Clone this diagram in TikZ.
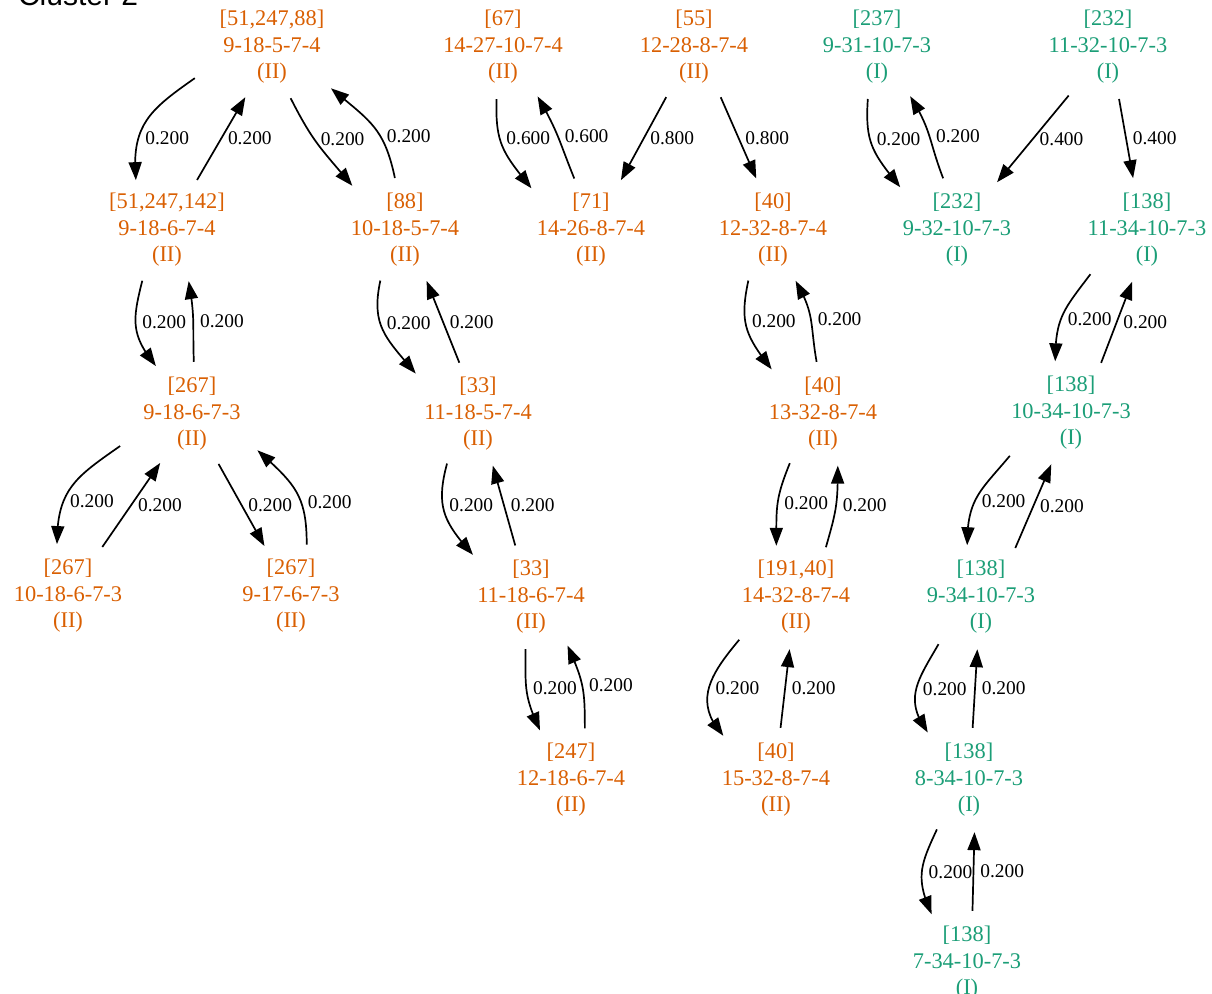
\documentclass[tikz,border=0pt]{standalone}
\usepackage{fontspec}
\setmainfont{Liberation Serif}
\newfontfamily\clusterfont{Liberation Sans}
\usetikzlibrary{arrows.meta,bending,shapes.geometric}
\definecolor{gvorange}{HTML}{D95F02}
\definecolor{gvgreen}{HTML}{1B9E77}
\tikzset{
  stnode/.style={ellipse, align=center, inner xsep=7.75pt, inner ysep=0pt,
    font=\fontsize{11.2}{13.25}\selectfont},
  typeII/.style={stnode, text=gvorange},
  typeI/.style={stnode, text=gvgreen},
  link/.style={line width=0.85pt, -{Triangle[length=9pt,width=6.5pt]}},
  wt/.style={right, inner sep=3pt, font=\fontsize{9.7}{11}\selectfont}
}
\begin{document}
\begin{tikzpicture}[x=0.5pt,y=-0.5pt]
\useasboundingbox (0,0) rectangle (1212,994);

\node[anchor=base west, font=\clusterfont\fontsize{15}{18}\selectfont] (title) at (11,6) {Cluster 2};

% first row
\node[typeII] (a) at (272,47) {[51,247,88]\\9-18-5-7-4\\(II)};
\node[typeII] (b) at (503,47) {[67]\\14-27-10-7-4\\(II)};
\node[typeII] (c) at (694,47) {[55]\\12-28-8-7-4\\(II)};
\node[typeI] (d) at (877,47) {[237]\\9-31-10-7-3\\(I)};
\node[typeI] (e) at (1108,47) {[232]\\11-32-10-7-3\\(I)};
% second row
\node[typeII] (f) at (167,230) {[51,247,142]\\9-18-6-7-4\\(II)};
\node[typeII] (g) at (405,230) {[88]\\10-18-5-7-4\\(II)};
\node[typeII] (h) at (591,230) {[71]\\14-26-8-7-4\\(II)};
\node[typeII] (i) at (773,230) {[40]\\12-32-8-7-4\\(II)};
\node[typeI] (j) at (957,230) {[232]\\9-32-10-7-3\\(I)};
\node[typeI] (k) at (1147,230) {[138]\\11-34-10-7-3\\(I)};
% third row
\node[typeII] (l) at (192,414) {[267]\\9-18-6-7-3\\(II)};
\node[typeII] (m) at (478,414) {[33]\\11-18-5-7-4\\(II)};
\node[typeII] (n) at (823,414) {[40]\\13-32-8-7-4\\(II)};
\node[typeI] (o) at (1071,413) {[138]\\10-34-10-7-3\\(I)};
% fourth row
\node[typeII] (p) at (68,596) {[267]\\10-18-6-7-3\\(II)};
\node[typeII] (q) at (291,596) {[267]\\9-17-6-7-3\\(II)};
\node[typeII] (r) at (531,597) {[33]\\11-18-6-7-4\\(II)};
\node[typeII] (s) at (796,597) {[191,40]\\14-32-8-7-4\\(II)};
\node[typeI] (t) at (981,597) {[138]\\9-34-10-7-3\\(I)};
% fifth and sixth row
\node[typeII] (u) at (571,780) {[247]\\12-18-6-7-4\\(II)};
\node[typeII] (v) at (776,780) {[40]\\15-32-8-7-4\\(II)};
\node[typeI] (w) at (969,780) {[138]\\8-34-10-7-3\\(I)};
\node[typeI] (x) at (967,963) {[138]\\7-34-10-7-3\\(I)};

% curved transitions
\foreach \p/\q/\o/\i/\t/\w in {a.202/f.122/215/95/0.68/0.200, a.290/g.140/297/130/0.42/0.200,
    g.101/a.325/102/320/0.38/0.200, f.244/l.127/256/129/0.45/0.200, l.88/f.293/92/280/0.5/0.200,
    l.204/p.102/215/90/0.67/0.200, q.73/l.331/90/318/0.37/0.200, g.244/m.147/258/130/0.4/0.200,
    m.238/r.144/255/132/0.4/0.200, r.264/u.122/270/115/0.45/0.200, u.75/r.307/90/294/0.5/0.200,
    b.263/h.145/268/129/0.38/0.600, h.108/b.305/112/300/0.5/0.600, i.244/n.139/258/128/0.41/0.200,
    n.97/i.294/100/300/0.5/0.200, n.236/s.111/248/90/0.5/0.200, s.59/n.286/74/270/0.52/0.200,
    s.217/v.140/230/132/0.5/0.200, d.260/j.143/266/129/0.4/0.200, j.105/d.304/111/302/0.5/0.200,
    k.218/o.107/233/90/0.56/0.200, o.215/t.105/230/90/0.56/0.200, t.228/w.131/240/126/0.5/0.200,
    w.237/x.126/245/114/0.5/0.200}
  \draw[link] (\p) to[out=\o,in=\i,looseness=1.2] node[wt,pos=\t] {\w} (\q);

% straight transitions
\foreach \p/\q/\w in {f.59/a.242/0.200, p.55/l.237/0.200, l.298/q.118/0.200,
    m.110/g.293/0.200, r.107/m.286/0.200, c.241/h.59/0.800, c.298/i.108/0.800,
    v.85/s.263/0.200, e.231/j.50/0.400, e.282/k.105/0.400, o.59/k.254/0.200,
    t.55/o.249/0.200, w.86/t.266/0.200, x.84/w.276/0.200}
  \draw[link] (\p) -- node[wt] {\w} (\q);

\end{tikzpicture}
\end{document}
